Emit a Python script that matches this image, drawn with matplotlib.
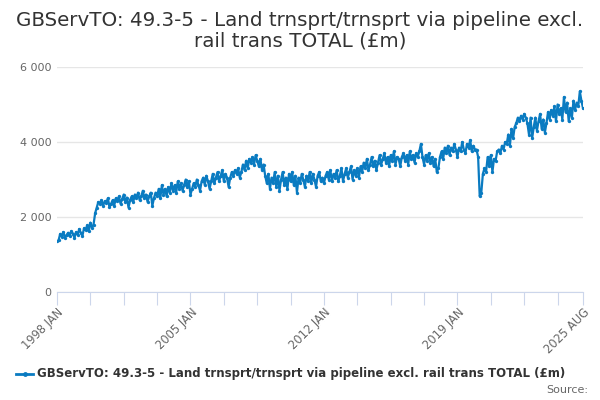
import matplotlib
matplotlib.use("Agg")
import matplotlib.pyplot as plt
import numpy as np

plt.rcParams['font.family'] = ['DejaVu Sans']

title = "GBServTO: 49.3-5 - Land trnsprt/trnsprt via pipeline excl.\nrail trans TOTAL (£m)"
series_name = "GBServTO: 49.3-5 - Land trnsprt/trnsprt via pipeline excl. rail trans TOTAL (£m)"
start_year, start_month = 1998, 1

values = [
    # 1998
    1350, 1380, 1550, 1480, 1600, 1450, 1520, 1580, 1500, 1620, 1560, 1450,
    # 1999
    1600, 1520, 1680, 1580, 1500, 1700, 1650, 1780, 1620, 1850, 1720, 1800,
    # 2000
    2100, 2250, 2400, 2350, 2450, 2300, 2420, 2380, 2500, 2280, 2350, 2450,
    # 2001
    2300, 2500, 2420, 2550, 2350, 2480, 2600, 2400, 2520, 2250, 2450, 2550,
    # 2002
    2400, 2600, 2500, 2650, 2450, 2550, 2700, 2500, 2600, 2400, 2550, 2650,
    # 2003
    2300, 2500, 2650, 2550, 2750, 2500, 2850, 2600, 2750, 2550, 2800, 2650,
    # 2004
    2900, 2700, 2850, 2650, 2950, 2750, 2900, 2700, 2850, 3000, 2800, 2950,
    # 2005
    2600, 2750, 2900, 2800, 3000, 2850, 2700, 2950, 3050, 2850, 3100, 2950,
    # 2006
    2750, 2950, 3150, 2900, 3050, 3200, 2950, 3100, 3250, 2950, 3150, 3050,
    # 2007
    2800, 3050, 3200, 3100, 3250, 3150, 3300, 3050, 3200, 3400, 3250, 3500,
    # 2008
    3300, 3550, 3450, 3600, 3400, 3650, 3500, 3350, 3550, 3250, 3400, 3100,
    # 2009
    2900, 3150, 2750, 3050, 2900, 3200, 2800, 3100, 2700, 3000, 3200, 2850,
    # 2010
    3050, 2750, 3150, 2950, 3200, 2850, 3100, 2650, 3050, 2900, 3150, 3000,
    # 2011
    2800, 3100, 2950, 3200, 2900, 3150, 3000, 2800, 3100, 3200, 2950, 3050,
    # 2012
    2900, 3100, 3200, 3000, 3250, 2950, 3150, 3050, 3250, 2950, 3100, 3300,
    # 2013
    2950, 3150, 3300, 3050, 3200, 3350, 3000, 3250, 3100, 3300, 3050, 3350,
    # 2014
    3200, 3450, 3300, 3550, 3250, 3400, 3600, 3350, 3500, 3250, 3450, 3650,
    # 2015
    3400, 3550, 3700, 3450, 3600, 3350, 3650, 3500, 3750, 3400, 3600, 3550,
    # 2016
    3350, 3600, 3700, 3500, 3650, 3400, 3750, 3550, 3650, 3450, 3700, 3600,
    # 2017
    3750, 3950, 3600, 3400, 3650, 3500, 3700, 3450, 3600, 3350, 3550, 3200,
    # 2018
    3300, 3600, 3750, 3550, 3850, 3700, 3900, 3650, 3850, 3750, 3950, 3800,
    # 2019
    3600, 3850, 3750, 4000, 3800, 3700, 3950, 3850, 4050, 3750, 3900, 3800,
    # 2020
    3800, 3600, 2550, 2650, 3150, 3300, 3200, 3600, 3350, 3650, 3200, 3550,
    # 2021
    3500, 3750, 3800, 3700, 3900, 3800, 4000, 3950, 4200, 3900, 4350, 4100,
    # 2022
    4400, 4500, 4650, 4550, 4700, 4600, 4750, 4650, 4500, 4200, 4650, 4100,
    # 2023
    4400, 4650, 4300, 4550, 4750, 4350, 4600, 4250, 4500, 4800, 4600, 4850,
    # 2024
    4700, 4950, 4550, 5000, 4750, 4900, 4600, 5200, 4800, 5050, 4550, 4900,
    # 2025
    4650, 5100, 4850, 5050, 4950, 5350, 5100, 4900,
]

month_names = ["JAN", "FEB", "MAR", "APR", "MAY", "JUN", "JUL", "AUG", "SEP", "OCT", "NOV", "DEC"]
n = len(values)
labels = []
for i in range(n):
    m = (start_month - 1 + i)
    labels.append(f"{start_year + m // 12} {month_names[m % 12]}")

yticks = [0, 2000, 4000, 6000]
label_idx = [0, 84, 168, 252, n - 1]

fig = plt.figure(figsize=(6, 4), dpi=100)
ax = fig.add_axes([57/600, 1 - 292/400, (583-57)/600, (292-67)/400])

x = np.arange(n)
color = '#0a7bc1'
ax.plot(x, values, color=color, lw=1.6, marker='o', ms=2.4, markeredgewidth=0, zorder=3)

ax.set_xlim(0, n - 1)
ax.set_ylim(0, 6000)
ax.set_yticks(yticks)
ax.set_yticklabels([f"{v:,}".replace(",", " ") for v in yticks])
ax.yaxis.grid(True, color='#e6e6e6', lw=1)
ax.set_axisbelow(True)
for s in ['top', 'right', 'left']:
    ax.spines[s].set_visible(False)
ax.spines['bottom'].set_color('#ccd6eb')
ax.tick_params(axis='y', length=0, labelsize=8, labelcolor='#666666', pad=4)

minor = list(range(0, n, 21)) + [n - 1]
ax.set_xticks(minor)
ax.set_xticklabels([labels[i] if i in label_idx else "" for i in minor],
                   rotation=45, ha='right', va='top', rotation_mode='anchor')
ax.tick_params(axis='x', length=9, color='#ccd6eb', labelsize=8.3, labelcolor='#666666', pad=1)

fig.text(0.5, 1 - 31/400, title, ha='center', va='center', fontsize=14.3, color='#333333',
         linespacing=1.1)

# legend
lx = [16/600, 24.5/600, 33/600]
fig.add_artist(plt.Line2D(lx, [1 - 374/400]*3, color=color, lw=2, marker='o', ms=3.5,
                          markevery=[1], markeredgewidth=0, transform=fig.transFigure))
fig.text(37/600, 1 - 374/400, series_name, ha='left', va='center', fontsize=8.5,
         fontweight='bold', color='#333333')
fig.text(588/600, 1 - 390/400, "Source:", ha='right', va='center', fontsize=8, color='#666666')

fig.savefig("out.png", dpi=100)
